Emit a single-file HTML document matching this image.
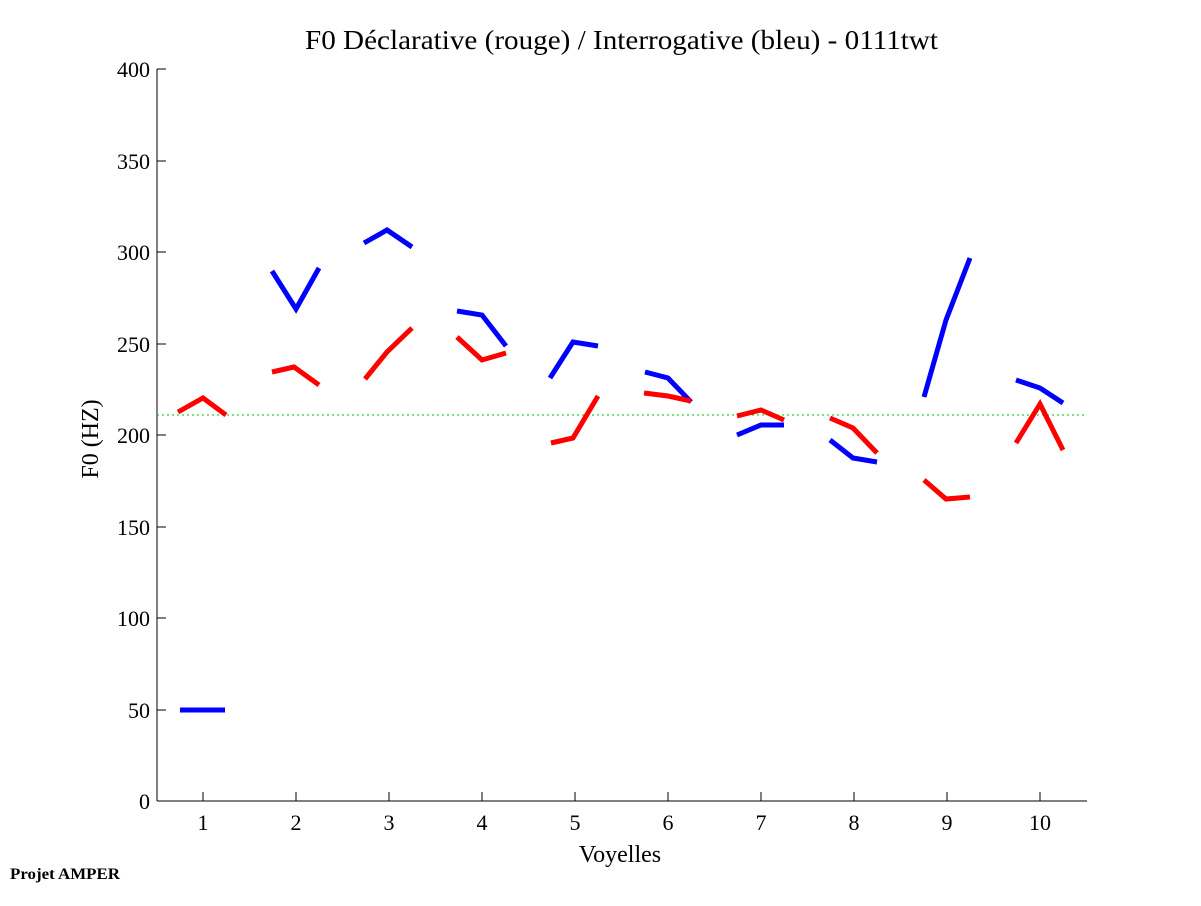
<!DOCTYPE html>
<html><head><meta charset="utf-8"><style>body{margin:0;background:#fff}</style></head><body>
<svg width="1201" height="901" xmlns="http://www.w3.org/2000/svg" font-family="Liberation Serif, serif">
<rect width="1201" height="901" fill="#fff"/>
<text x="305" y="49" font-size="27" textLength="633" lengthAdjust="spacingAndGlyphs">F0 Déclarative (rouge) / Interrogative (bleu) - 0111twt</text>
<g stroke="#000" stroke-width="1" fill="none">
<line x1="157" y1="69" x2="157" y2="801"/><line x1="157" y1="801" x2="1087" y2="801"/>
<g>
<line x1="157" y1="801" x2="166" y2="801"/><line x1="157" y1="710" x2="166" y2="710"/><line x1="157" y1="618" x2="166" y2="618"/><line x1="157" y1="527" x2="166" y2="527"/><line x1="157" y1="435" x2="166" y2="435"/><line x1="157" y1="344" x2="166" y2="344"/><line x1="157" y1="252" x2="166" y2="252"/><line x1="157" y1="161" x2="166" y2="161"/><line x1="157" y1="69" x2="166" y2="69"/>
</g>
<g>
<line x1="203" y1="801" x2="203" y2="792"/><line x1="296" y1="801" x2="296" y2="792"/><line x1="389" y1="801" x2="389" y2="792"/><line x1="482" y1="801" x2="482" y2="792"/><line x1="575" y1="801" x2="575" y2="792"/><line x1="668" y1="801" x2="668" y2="792"/><line x1="761" y1="801" x2="761" y2="792"/><line x1="854" y1="801" x2="854" y2="792"/><line x1="947" y1="801" x2="947" y2="792"/><line x1="1040" y1="801" x2="1040" y2="792"/>
</g></g>
<g font-size="22" text-anchor="end">
<text x="150" y="809">0</text><text x="150" y="718">50</text><text x="150" y="626">100</text><text x="150" y="535">150</text><text x="150" y="443">200</text><text x="150" y="352">250</text><text x="150" y="260">300</text><text x="150" y="169">350</text><text x="150" y="77">400</text>
</g>
<g font-size="22" text-anchor="middle">
<text x="203" y="830">1</text><text x="296" y="830">2</text><text x="389" y="830">3</text><text x="482" y="830">4</text><text x="575" y="830">5</text><text x="668" y="830">6</text><text x="761" y="830">7</text><text x="854" y="830">8</text><text x="947" y="830">9</text><text x="1040" y="830">10</text>
<text x="620" y="862" font-size="24">Voyelles</text>
<text transform="translate(98,439) rotate(-90)" font-size="24">F0 (HZ)</text>
</g>
<text x="10" y="879" font-size="16" font-weight="bold" textLength="110" lengthAdjust="spacingAndGlyphs">Projet AMPER</text>
<line x1="157" y1="415" x2="1087" y2="415" stroke="#00c000" stroke-width="1" stroke-dasharray="2,3"/>
<g fill="none" stroke="#0000ff" stroke-width="5">
<polyline points="180,710 225,710"/>
<polyline points="272,271 296,309 319,268"/>
<polyline points="364,243 387,230 412,247"/>
<polyline points="457,311 482,315 506,346"/>
<polyline points="550,378 573,342 598,346"/>
<polyline points="645,372 668,378 691,402"/>
<polyline points="737,435 761,425 784,425"/>
<polyline points="830,440 853,458 877,462"/>
<polyline points="924,397 946,320 970,258"/>
<polyline points="1016,380 1040,388 1063,403"/>
</g>
<g fill="none" stroke="#ff0000" stroke-width="5">
<polyline points="178,412 203,398 226,415"/>
<polyline points="272,372 294,367 319,385"/>
<polyline points="365,379 387,352 412,328"/>
<polyline points="457,337 482,360 506,353"/>
<polyline points="551,443 573,438 598,396"/>
<polyline points="644,393 668,396 691,401"/>
<polyline points="737,416 761,410 784,420"/>
<polyline points="830,418 853,428 877,453"/>
<polyline points="924,480 946,499 970,497"/>
<polyline points="1016,443 1040,404 1063,450"/>
</g>
</svg>
</body></html>
